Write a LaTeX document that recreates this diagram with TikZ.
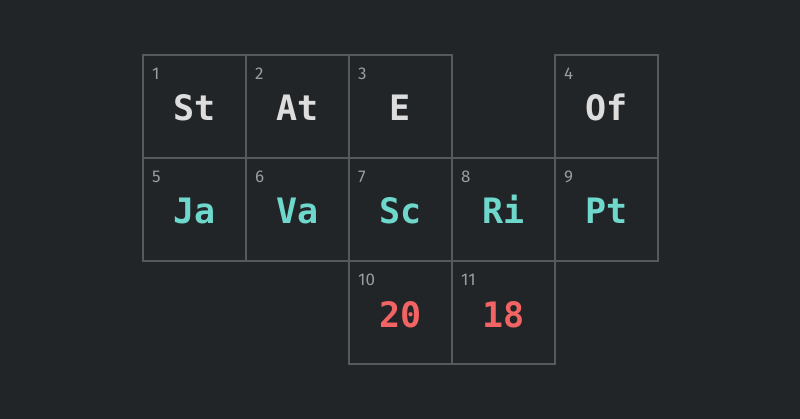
\documentclass[tikz,border=0pt]{standalone}
\usepackage{fontspec}
\setmainfont{DejaVu Sans Mono}
\newfontfamily\labfont{Fira Sans}
\definecolor{bg}{HTML}{222527}
\definecolor{gridc}{HTML}{575A5C}
\definecolor{wtxt}{HTML}{DDDDDD}
\definecolor{teal}{HTML}{6ED8CD}
\definecolor{redc}{HTML}{F26363}
\definecolor{labc}{HTML}{9A9C9E}
\tikzset{
  cellbox/.style={draw=gridc, line width=1.6pt},
  numlab/.style={anchor=base west, inner sep=0pt, text=labc, font=\labfont\fontsize{17}{17}\selectfont},
  sym/.style={anchor=base, inner sep=0pt, font=\bfseries\fontsize{35}{35}\selectfont},
}
\begin{document}
\begin{tikzpicture}[x=1pt,y=-1pt]
\fill[bg] (0,0) rectangle (800,419);
\useasboundingbox (0,0) rectangle (800,419);
% cell(col,row,num,text,color)
\newcommand\mycell[5]{%
  \pgfmathsetmacro\cx{143+103*#1}%
  \pgfmathsetmacro\cy{55+103*#2}%
  \draw[cellbox] (\cx,\cy) rectangle ++(103,103);
  \node[numlab] (n#3) at (\cx+9,\cy+25) {#3};
  \node[sym, text=#5] (s#3) at (\cx+51.5,\cy+66) {#4};
}
\mycell{0}{0}{1}{St}{wtxt}
\mycell{1}{0}{2}{At}{wtxt}
\mycell{2}{0}{3}{E}{wtxt}
\mycell{4}{0}{4}{Of}{wtxt}
\mycell{0}{1}{5}{Ja}{teal}
\mycell{1}{1}{6}{Va}{teal}
\mycell{2}{1}{7}{Sc}{teal}
\mycell{3}{1}{8}{Ri}{teal}
\mycell{4}{1}{9}{Pt}{teal}
\mycell{2}{2}{10}{20}{redc}
\mycell{3}{2}{11}{18}{redc}
\end{tikzpicture}
\end{document}
